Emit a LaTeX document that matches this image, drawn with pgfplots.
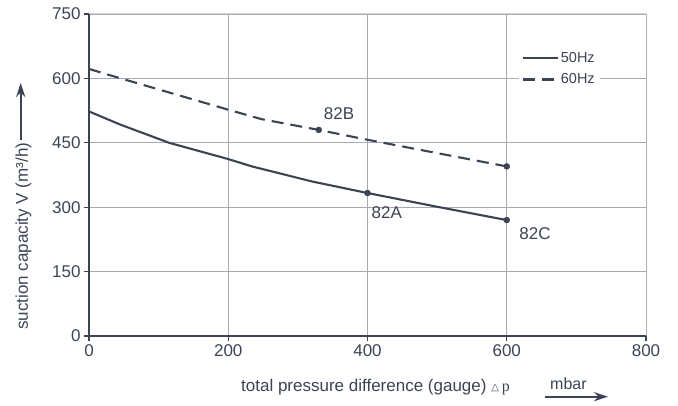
\documentclass[border=0pt]{standalone}
\usepackage{fontspec}
\setmainfont{Liberation Sans}
\newfontfamily\dejavu{DejaVu Sans}
\newfontfamily\tnr{Liberation Serif}
\usepackage{pgfplots}
\pgfplotsset{compat=1.18}
\usetikzlibrary{arrows.meta}
\definecolor{ink}{HTML}{3B4354}
\definecolor{gridc}{HTML}{A6AAB2}
\definecolor{framec}{HTML}{D6D8DC}

\begin{document}
\begin{tikzpicture}
\begin{axis}[
  scale only axis, width=557pt, height=322pt,
  xmin=0, xmax=800, ymin=0, ymax=750,
  xtick={0,200,...,800}, ytick={0,150,...,750},
  axis lines*=left,
  axis line style={ink, line width=1.3pt},
  grid=major, grid style={gridc, line width=0.8pt},
  tick align=outside, major tick length=5pt,
  tick style={ink, line width=1.2pt},
  ticklabel style={font=\fontsize{17}{19}\selectfont, text=ink},
  /pgf/number format/assume math mode=true,
  legend style={at={(axis cs:617,671)}, anchor=north west, draw=none,
    fill=white, font=\fontsize{14.5}{16}\selectfont, text=ink,
    row sep=6pt, inner xsep=3pt, inner ysep=2pt},
  legend cell align=left,
  legend image code/.code={\draw[#1] (0pt,0pt) -- (35pt,0pt);},
]
\addplot[ink, line width=2.1pt] coordinates {
  (0,523) (44,493) (115,450) (198,413) (234,395) (320,360) (400,333) (500,301) (600,270)};
\addlegendentry{50Hz}
\addplot[ink, line width=2.1pt, dash pattern=on 12pt off 7pt] coordinates {
  (0,622) (33,606) (198,528) (248,505) (330,480) (397,458) (516,421) (600,395)};
\addlegendentry{60Hz}
\addplot[only marks, mark=*, mark size=3pt, ink, forget plot] coordinates {
  (330,480) (400,333) (600,395) (600,270)};
\draw[framec, line width=1pt] (rel axis cs:0,1) -- (rel axis cs:1,1) -- (rel axis cs:1,0);
\node[anchor=base west, inner sep=0, text=ink, font=\fontsize{17}{19}\selectfont]
  at ([shift={(5pt,10pt)}]axis cs:330,480) {82B};
\node[anchor=base west, inner sep=0, text=ink, font=\fontsize{17}{19}\selectfont]
  at ([shift={(4pt,-25pt)}]axis cs:400,333) {82A};
\node[anchor=base west, inner sep=0, text=ink, font=\fontsize{17}{19}\selectfont]
  at ([shift={(12.5pt,-19pt)}]axis cs:600,270) {82C};
\coordinate (O) at (rel axis cs:0,0);
\coordinate (T) at (rel axis cs:1,1);
\end{axis}
% axis titles with arrows
\node[anchor=base west, inner sep=0, rotate=90, text=ink, font=\fontsize{17}{19}\selectfont]
  at ([shift={(-61pt,6pt)}]O) {suction capacity V (m³/h)};
\draw[ink, line width=2.1pt, -{Stealth[length=14pt,width=9pt]}]
  ([shift={(-68.3pt,196pt)}]O) -- ([shift={(-68.3pt,253pt)}]O);
\node[anchor=base west, inner sep=0, text=ink, font=\fontsize{17}{19}\selectfont]
  at ([shift={(152pt,-56pt)}]O) {total pressure difference (gauge) {\dejavu\fontsize{10}{10}\selectfont\raisebox{1.5pt}{△}}\,{\tnr\fontsize{16}{18}\selectfont p}};
\node[anchor=base west, inner sep=0, text=ink, font=\fontsize{16}{18}\selectfont]
  at ([shift={(461pt,-54pt)}]O) {mbar};
\draw[ink, line width=2.1pt, -{Stealth[length=14pt,width=9pt]}]
  ([shift={(456pt,-60.7pt)}]O) -- ([shift={(519pt,-60.7pt)}]O);
\pgfresetboundingbox
\path[use as bounding box] ([shift={(-89pt,-70pt)}]O) rectangle ([shift={(32pt,14pt)}]T);
\end{tikzpicture}
\end{document}
